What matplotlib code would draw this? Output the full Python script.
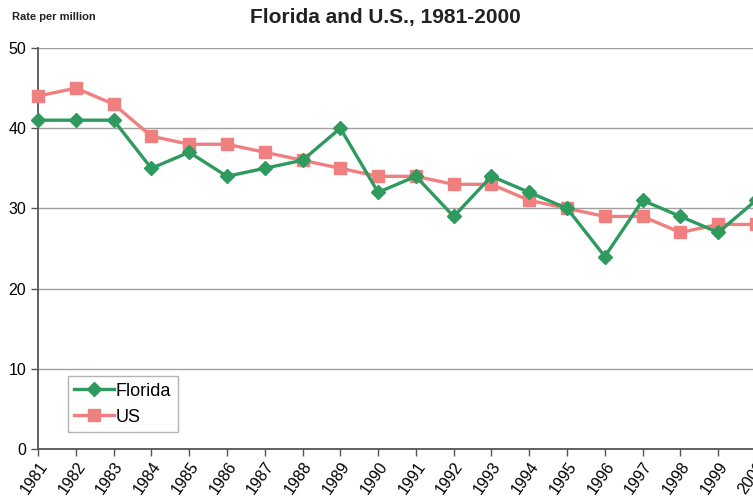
import matplotlib
matplotlib.use("Agg")
import matplotlib.pyplot as plt

plt.rcParams['font.family'] = ['Liberation Sans', 'DejaVu Sans']

years = list(range(1981, 2001))
florida = [41, 41, 41, 35, 37, 34, 35, 36, 40, 32, 34, 29, 34, 32, 30, 24, 31, 29, 27, 31]
us = [44, 45, 43, 39, 38, 38, 37, 36, 35, 34, 34, 33, 33, 31, 30, 29, 29, 27, 28, 28]

fig = plt.figure(figsize=(7.53, 5.0), dpi=100)
# plot area runs a little past the right edge, as in the cropped original
ax = fig.add_axes([38 / 753, 1 - 449 / 500, 718 / 753, 401 / 500])

green = '#2e9a5e'
pink = '#f08080'
ax.plot(years, florida, color=green, lw=2.4, marker='D', ms=7, label='Florida',
        clip_on=False, zorder=4)
ax.plot(years, us, color=pink, lw=2.4, marker='s', ms=8.5, label='US',
        clip_on=False, zorder=3)

ax.set_xlim(1981, 2000)
ax.set_ylim(0, 50)
ax.set_yticks(range(0, 51, 10))
ax.set_xticks(years)
ax.set_xticklabels([str(y) for y in years], rotation=55, ha='right',
                   rotation_mode='anchor')
ax.grid(axis='y', color='#a0a0a0', lw=1)
ax.set_axisbelow(True)
for s in ['top', 'right']:
    ax.spines[s].set_visible(False)
for s in ['left', 'bottom']:
    ax.spines[s].set_color('#555555')
    ax.spines[s].set_linewidth(1.3)
ax.tick_params(axis='both', labelsize=11.5, color='#555555', length=5, width=1)
ax.tick_params(axis='x', pad=2)

leg = ax.legend(loc='lower left', bbox_to_anchor=(30 / 718, 17 / 401),
                borderaxespad=0, fontsize=13, frameon=True, fancybox=False,
                handlelength=2.2, handletextpad=0.1, borderpad=0.35,
                labelspacing=0.5)
leg.get_frame().set_edgecolor('#a0a0a0')
leg.get_frame().set_linewidth(1)

fig.text(385 / 753, 1 - 17 / 500, 'Florida and U.S., 1981-2000', ha='center',
         va='center', fontsize=15, fontweight='bold', color='#222222')
fig.text(12 / 753, 1 - 17 / 500, 'Rate per million', ha='left', va='center',
         fontsize=8, fontweight='bold', color='#222222')

fig.savefig('out.png', dpi=100)
